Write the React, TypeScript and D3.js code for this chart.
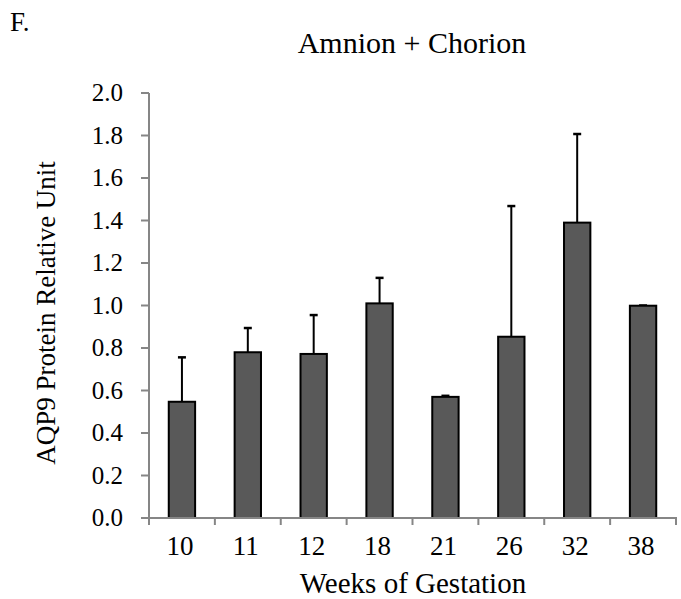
import React, { useEffect, useRef } from "react";
import * as d3 from "d3";

const weeks = ["10", "11", "12", "18", "21", "26", "32", "38"];
const means = [0.547, 0.78, 0.772, 1.01, 0.57, 0.853, 1.39, 0.999];
const errTops = [0.756, 0.894, 0.955, 1.13, 0.575, 1.468, 1.807, 1.0];
const yTicks = [0, 0.2, 0.4, 0.6, 0.8, 1.0, 1.2, 1.4, 1.6, 1.8, 2.0];

const App: React.FC = () => {
  const ref = useRef<SVGSVGElement | null>(null);

  useEffect(() => {
    if (!ref.current) return;
    const width = 681;
    const height = 599;
    const margin = { top: 93, right: 5, bottom: 81, left: 149 };
    const font = "'Liberation Serif', 'Times New Roman', serif";
    const axisColor = "#868686";

    const svg = d3.select(ref.current);
    svg.selectAll("*").remove();
    svg.attr("width", width).attr("height", height);

    const x = d3
      .scaleBand<string>()
      .domain(weeks)
      .range([margin.left, 676])
      .paddingInner(0.6)
      .paddingOuter(0.3);
    const y = d3.scaleLinear().domain([0, 2]).range([height - margin.bottom, margin.top]);

    const data = weeks.map((w, i) => ({ w, v: means[i], e: errTops[i] }));

    // error bars (behind bars)
    const eb = svg.append("g");
    data.forEach((d) => {
      const cx = x(d.w)! + x.bandwidth() / 2;
      eb.append("line")
        .attr("x1", cx).attr("x2", cx)
        .attr("y1", y(d.v)).attr("y2", y(d.e))
        .attr("stroke", "#000").attr("stroke-width", 2);
      eb.append("line")
        .attr("x1", cx - 4).attr("x2", cx + 4)
        .attr("y1", y(d.e)).attr("y2", y(d.e))
        .attr("stroke", "#000").attr("stroke-width", 2.5);
    });

    // bars
    svg.append("g")
      .selectAll("rect")
      .data(data)
      .join("rect")
      .attr("x", (d) => x(d.w)!)
      .attr("y", (d) => y(d.v))
      .attr("width", x.bandwidth())
      .attr("height", (d) => y(0) - y(d.v))
      .attr("fill", "#595959")
      .attr("stroke", "#000")
      .attr("stroke-width", 2);

    // y axis
    const yAxis = svg.append("g");
    yAxis.append("line")
      .attr("x1", margin.left).attr("x2", margin.left)
      .attr("y1", y(2)).attr("y2", y(0))
      .attr("stroke", axisColor).attr("stroke-width", 2);
    yTicks.forEach((t) => {
      yAxis.append("line")
        .attr("x1", margin.left - 8).attr("x2", margin.left)
        .attr("y1", y(t)).attr("y2", y(t))
        .attr("stroke", axisColor).attr("stroke-width", 2);
      yAxis.append("text")
        .attr("x", 123).attr("y", y(t) + 8)
        .attr("text-anchor", "end")
        .style("font-family", font).style("font-size", "25px")
        .text(t.toFixed(1));
    });

    // x axis
    const xAxis = svg.append("g");
    xAxis.append("line")
      .attr("x1", margin.left - 8).attr("x2", 677)
      .attr("y1", y(0)).attr("y2", y(0))
      .attr("stroke", axisColor).attr("stroke-width", 2);
    const step = x.step();
    const x0 = x(weeks[0])! - x.paddingOuter() * step;
    for (let i = 0; i <= weeks.length; i++) {
      const tx = x0 + i * ((676 - x0) / weeks.length);
      xAxis.append("line")
        .attr("x1", tx).attr("x2", tx)
        .attr("y1", y(0)).attr("y2", y(0) + 7)
        .attr("stroke", axisColor).attr("stroke-width", 2);
    }
    weeks.forEach((w) => {
      xAxis.append("text")
        .attr("x", x(w)! + x.bandwidth() / 2 - 2).attr("y", 555)
        .attr("text-anchor", "middle")
        .style("font-family", font).style("font-size", "27px")
        .text(w);
    });

    // titles
    svg.append("text")
      .attr("x", 10).attr("y", 31)
      .style("font-family", font).style("font-size", "27px")
      .text("F.");
    svg.append("text")
      .attr("x", 412).attr("y", 53)
      .attr("text-anchor", "middle")
      .style("font-family", font).style("font-size", "30px")
      .text("Amnion + Chorion");
    svg.append("text")
      .attr("x", 413).attr("y", 593)
      .attr("text-anchor", "middle")
      .style("font-family", font).style("font-size", "29px")
      .text("Weeks of Gestation");
    svg.append("text")
      .attr("transform", `translate(55, 313) rotate(-90)`)
      .attr("text-anchor", "middle")
      .style("font-family", font).style("font-size", "27px")
      .text("AQP9 Protein Relative Unit");
  }, []);

  return <svg ref={ref} style={{ position: "absolute", left: 0, top: 0 }}></svg>;
};

export default App;
